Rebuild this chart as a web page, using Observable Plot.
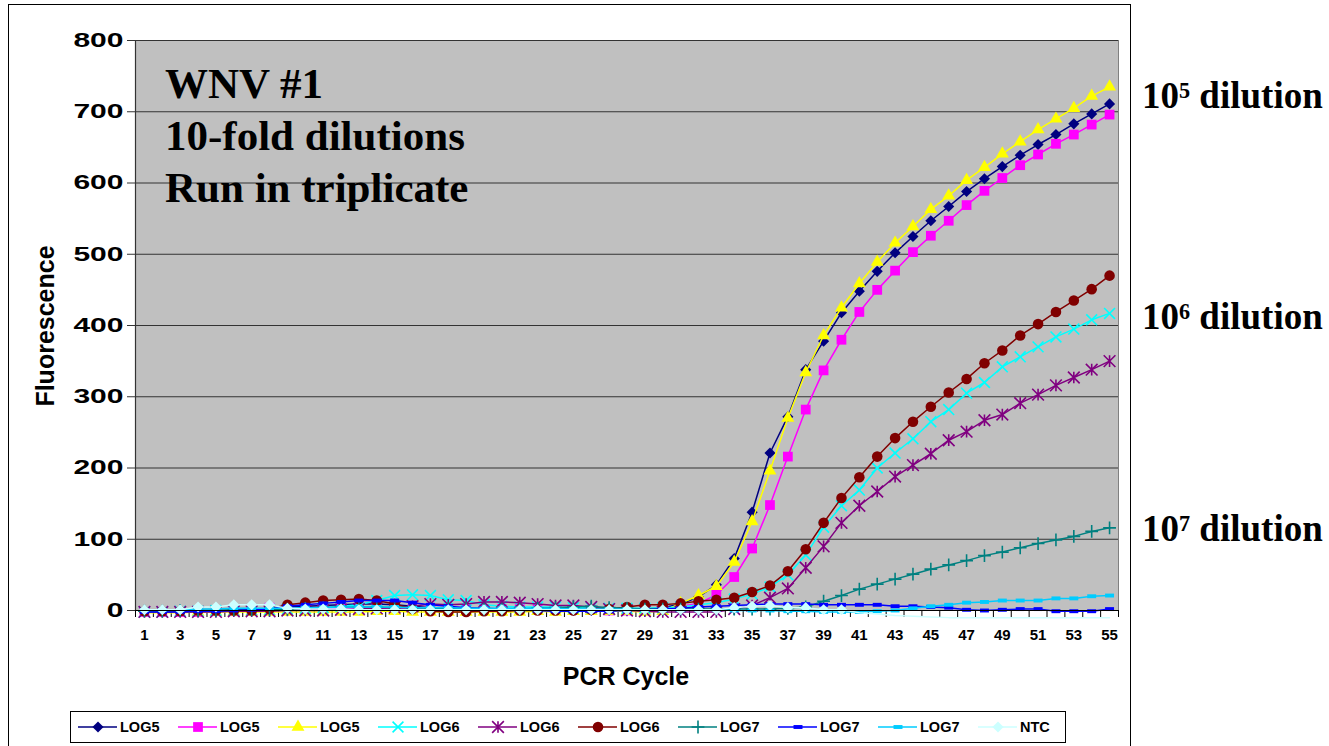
<!DOCTYPE html>
<html><head><meta charset="utf-8">
<script src="https://cdn.jsdelivr.net/npm/d3@7"></script>
<script src="https://cdn.jsdelivr.net/npm/@observablehq/plot@0.6"></script>
<style>
html,body{margin:0;padding:0;background:#fff;}
body{width:1329px;height:746px;position:relative;overflow:hidden;font-family:"Liberation Sans",Arial,sans-serif;}
#frame{position:absolute;left:8px;top:4px;width:1123px;height:800px;border:1px solid #000;box-sizing:border-box;}
#chart{position:absolute;left:0;top:0;}
.title{position:absolute;left:165px;font-family:"Liberation Serif","Times New Roman",serif;font-weight:bold;font-size:43px;line-height:43px;color:#000;white-space:nowrap;}
.dil{position:absolute;left:1142px;font-family:"Liberation Serif","Times New Roman",serif;font-weight:bold;font-size:37px;line-height:37px;white-space:nowrap;}
.dil .sup{font-size:0.6em;position:relative;top:-10px;}
#ylab{position:absolute;left:45px;top:326px;transform:translate(-50%,-50%) rotate(-90deg);font-weight:bold;font-size:25px;white-space:nowrap;}
#xlab{position:absolute;left:626px;top:676px;transform:translate(-50%,-50%);font-weight:bold;font-size:25px;white-space:nowrap;}
#legend{position:absolute;left:70px;top:711px;width:996px;height:32px;border:1px solid #000;box-sizing:border-box;background:#fff;}
.item{position:absolute;top:0;height:30px;}
.item svg{position:absolute;left:0;top:0;}
.item span{position:absolute;left:42px;top:7px;font-weight:bold;font-size:14.5px;line-height:16px;white-space:nowrap;}
</style>
</head>
<body>
<div id="frame"></div>
<div id="chart"></div>
<div class="title" style="top:62px">WNV #1</div>
<div class="title" style="top:114px">10-fold dilutions</div>
<div class="title" style="top:166px">Run in triplicate</div>
<div class="dil" style="top:77px">10<span class="sup">5</span> dilution</div>
<div class="dil" style="top:298px">10<span class="sup">6</span> dilution</div>
<div class="dil" style="top:510px">10<span class="sup">7</span> dilution</div>
<div id="ylab">Fluorescence</div>
<div id="xlab">PCR Cycle</div>
<div id="legend"></div>
<script>
// ---- data ----
const cycles = d3.range(1, 56);
const yTicks = [0, 100, 200, 300, 400, 500, 600, 700, 800];
const xTickLabels = cycles.filter(c => c % 2 === 1);
const seriesNames = ["LOG5", "LOG5", "LOG5", "LOG6", "LOG6", "LOG6", "LOG7", "LOG7", "LOG7", "NTC"];
const seriesColors = ["#000080", "#FF00FF", "#FFFF00", "#00FFFF", "#800080", "#800000", "#008080", "#0000FF", "#00CCFF", "#CCFFFF"];

const log5a = [0,-1,-1,-1,0,0,0,3,5,6, 7,8,9,9,8,6,4,3,2,2, 1,1,1,1,0,0,0,1,2,4,
  9,19,36,73,138,221,272,338,378,418, 448,476,502,525,547,567,588,606,623,639, 654,668,683,697,711];
const log5b = [-2,-2,-2,-2,-1,-1,0,4,3,2, 2,3,3,3,3,2,2,2,2,2, 2,2,2,1,1,1,0,0,1,2,
  6,10,22,47,87,148,216,282,337,380, 419,450,477,503,526,547,569,589,607,625, 640,655,668,682,696];
const log5c = [-3,-3,-3,-2,-2,-2,-2,-2,-2,-2, -2,-2,-2,-1,-1,-2,-2,-2,-2,-2, -2,-2,-1,-2,-1,-1,-1,-1,-2,-1,
  10,21,34,68,125,196,270,334,386,425, 459,489,516,539,563,582,604,622,641,658, 675,690,705,722,735];
const log6a = [-2,-2,-1,-1,0,0,1,1,2,3, 4,6,8,14,21,22,21,15,14,8, 6,5,5,5,4,4,3,3,3,4,
  5,8,11,16,23,33,50,78,117,147, 169,200,221,241,265,282,305,320,342,356, 370,384,395,408,417];
const log6b = [-2,-2,-2,-2,-2,-1,-1,-1,0,0, 0,1,2,3,4,6,9,8,9,12, 12,11,9,7,7,5,2,0,-1,-2,
  -2,-2,-2,2,7,18,31,60,90,123, 147,167,188,204,220,239,251,267,275,291, 303,316,327,338,350];
const log6c = [-1,-1,-1,0,0,0,0,2,8,11, 14,15,16,14,9,2,-1,-2,-2,-1, -1,0,0,0,0,1,2,5,8,8,
  10,13,15,18,26,35,55,86,123,158, 187,216,242,265,286,306,325,347,365,386, 402,419,435,451,470];
const log7a = [-1,-1,0,0,0,1,1,1,2,3, 4,5,5,5,4,4,3,3,3,2, 2,2,3,4,5,6,4,3,2,2,
  2,2,2,2,2,2,3,5,13,21, 30,37,44,51,58,64,70,77,82,88, 94,99,104,111,116];
const log7b = [-2,-2,-2,-1,-1,0,1,2,6,8, 10,12,14,14,14,11,8,6,4,3, 2,1,0,-1,-1,-1,-1,0,1,2,
  3,5,6,7,8,9,9,9,8,8, 8,8,6,6,5,4,1,0,1,2, 2,-1,-1,-1,2];
const log7c = [1,1,1,2,2,3,3,3,3,4, 4,5,5,5,5,4,4,4,3,3, 3,3,3,3,2,2,2,2,1,1,
  1,1,1,0,0,0,-1,-1,-2,-2, -2,-1,0,3,6,8,11,12,14,14, 14,17,17,20,21];
const ntc = [1,1,1,5,5,8,8,8,3,2, 2,2,1,1,1,1,1,1,1,1, 1,1,1,1,1,1,1,1,1,1,
  1,1,1,4,6,7,4,4,1,1, -3,-5,-7,-8,-9,-10,-10,-10,-10,-10, -10,-10,-10,-10,-10];

const seriesValues = [log5a, log5b, log5c, log6a, log6b, log6c, log7a, log7b, log7c, ntc];

// ---- marker shapes ----
const asterisk = {draw(ctx, size) { const r = Math.sqrt(size) * 0.55;
  ctx.moveTo(0, -r); ctx.lineTo(0, r); ctx.moveTo(-r, -r); ctx.lineTo(r, r); ctx.moveTo(-r, r); ctx.lineTo(r, -r); }};
const dash = {draw(ctx, size) { const w = Math.sqrt(size) * 0.55, h = Math.sqrt(size) * 0.24;
  ctx.rect(-w, -h, 2 * w, 2 * h); }};
const markers = [
  {symbol: "diamond2", d3sym: d3.symbolDiamond2, filled: true, r: 5},
  {symbol: "square", d3sym: d3.symbolSquare, filled: true, r: 5.5},
  {symbol: "triangle", d3sym: d3.symbolTriangle, filled: true, r: 4.8},
  {symbol: "times", d3sym: d3.symbolTimes, filled: false, r: 5},
  {symbol: asterisk, d3sym: asterisk, filled: false, r: 6},
  {symbol: "circle", d3sym: d3.symbolCircle, filled: true, r: 5.3},
  {symbol: "plus", d3sym: d3.symbolPlus, filled: false, r: 4.2},
  {symbol: dash, d3sym: dash, filled: true, r: 4.6},
  {symbol: dash, d3sym: dash, filled: true, r: 4.6},
  {symbol: "diamond2", d3sym: d3.symbolDiamond2, filled: true, r: 5}
];

const seriesMarks = seriesValues.flatMap((vals, k) => {
  const rows = cycles.map((c, i) => ({cycle: c, value: vals[i]}));
  const m = markers[k];
  const color = seriesColors[k];
  return [
    Plot.line(rows, {x: "cycle", y: "value", stroke: color, strokeWidth: 1.5}),
    Plot.dot(rows, {x: "cycle", y: "value", symbol: m.symbol, r: m.r,
      filter: d => d.value > -3,
      fill: m.filled ? color : "none", stroke: m.filled ? "none" : color, strokeWidth: 1.6})
  ];
});

const boundaries = cycles.map(c => c - 0.5).concat([cycles[cycles.length - 1] + 0.5]);

const plot = Plot.plot({
  width: 1329, height: 700,
  marginLeft: 135, marginRight: 211, marginTop: 40, marginBottom: 90,
  x: {domain: [0.5, 55.5]},
  y: {domain: [0, 800]},
  style: {background: "transparent", overflow: "visible", fontFamily: "'Liberation Sans', Arial, sans-serif", color: "#000"},
  marks: [
    Plot.frame({fill: "#c0c0c0", stroke: "#808080"}),
    Plot.gridY(yTicks, {stroke: "#333", strokeOpacity: 1, strokeWidth: 1.2}),
    Plot.axisY(yTicks, {tickSize: 8, tickPadding: 4, fontSize: 20, fontWeight: "bold", label: null, stroke: "#333"}),
    Plot.axisX(xTickLabels, {tickSize: 0, tickPadding: 19, fontSize: 15, fontWeight: "bold", label: null}),
    Plot.axisX(boundaries, {tickSize: 7, tickFormat: () => "", label: null, stroke: "#000"}),
    Plot.ruleX([0.5], {stroke: "#333", strokeWidth: 1.2}),
    ...seriesMarks,
    Plot.ruleY([0], {stroke: "#000", strokeWidth: 1.2})
  ]
});
document.getElementById("chart").appendChild(plot);

// widen the y tick labels as in the original
plot.querySelectorAll('g[aria-label="y-axis tick label"] text').forEach(t => {
  const w = t.getComputedTextLength();
  t.setAttribute("textLength", (w * 1.5).toFixed(1));
  t.setAttribute("lengthAdjust", "spacingAndGlyphs");
});

// ---- legend ----
const legend = document.getElementById("legend");
seriesNames.forEach((name, k) => {
  const m = markers[k];
  const color = seriesColors[k];
  const item = document.createElement("div");
  item.className = "item";
  item.style.left = (7 + 100 * k) + "px";
  const size = Math.PI * m.r * m.r;
  const path = d3.symbol(m.d3sym, size)();
  item.innerHTML = `<svg width="40" height="30"><line x1="0" x2="39" y1="15" y2="15" stroke="${color}" stroke-width="1.5"/>` +
    `<path transform="translate(20,15)" d="${path}" fill="${m.filled ? color : "none"}" stroke="${m.filled ? "none" : color}" stroke-width="1.6"/></svg>` +
    `<span>${name}</span>`;
  legend.appendChild(item);
});
</script>
</body></html>
